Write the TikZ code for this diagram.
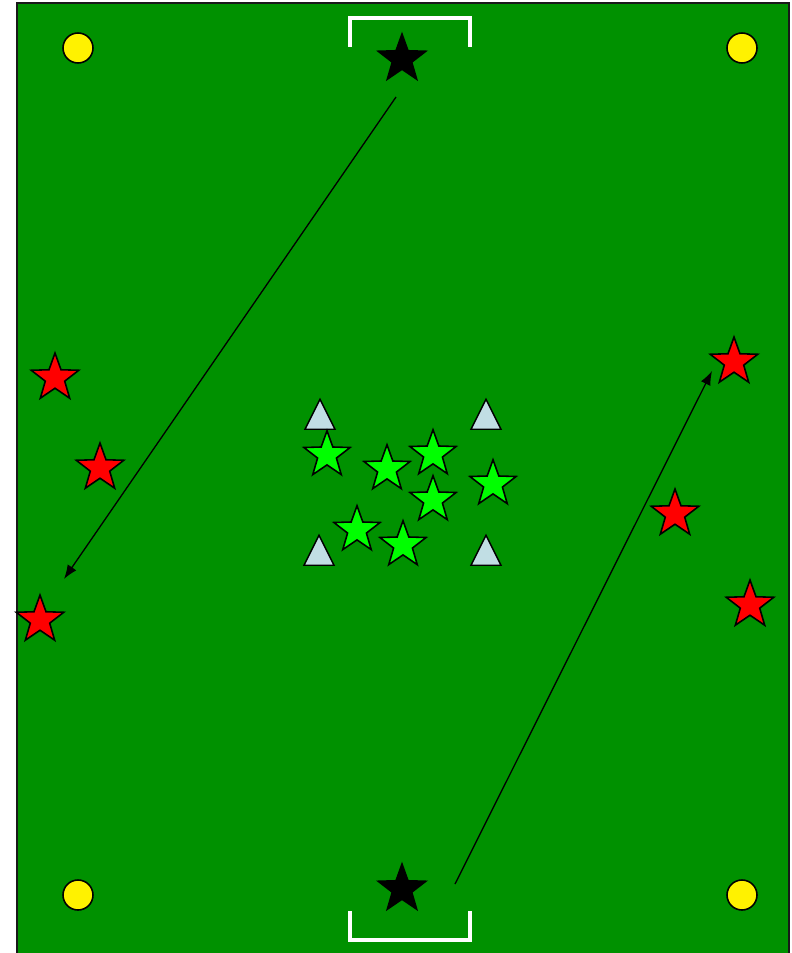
\documentclass[tikz,border=0pt]{standalone}
\usepackage{tikz}
\usetikzlibrary{positioning,calc}
\usetikzlibrary{arrows.meta,shapes.geometric}
\definecolor{PitchGreen}{RGB}{0,145,0}
\definecolor{PlayerGreen}{RGB}{0,255,0}
\definecolor{ConeBlue}{RGB}{193,222,228}
\tikzset{
  player/.style={star,star points=5,star point ratio=2.45,draw=black,line width=0.9pt,
    inner sep=0pt,minimum size=1cm},
  red/.style={player,fill=red},
  grn/.style={player,fill=PlayerGreen,minimum size=0.97cm},
  keeper/.style={player,fill=black},
  ball/.style={circle,draw=black,fill=yellow,line width=0.9pt,inner sep=0pt,minimum size=0.6cm},
  cone/.style={isosceles triangle,isosceles triangle stretches,shape border rotate=90,
    draw=black,fill=ConeBlue,line width=0.8pt,inner sep=0pt,minimum width=0.6cm,minimum height=0.6cm},
}
\tikzset{goal/.style={draw=white,line width=2.4pt},pass/.style={draw=black,line width=0.75pt,-{Latex[length=8pt,width=6pt]}}}
\begin{document}
\begin{tikzpicture}[x=0.02cm,y=-0.02cm]
\useasboundingbox (0,0) rectangle (791,953);
\fill[PitchGreen] (17,3) rectangle (789,965);
\draw[black!90,line width=1.1pt] (17,965) -- (17,3) -- (789,3) -- (789,965);
% goals
\draw[goal] (350,47) -- (350,18) -- (470,18) -- (470,47);
\draw[goal] (350,911) -- (350,940) -- (470,940) -- (470,911);
% corner balls
\node[ball] (b1) at (78,48) {};
\node[ball] (b2) at (742,48) {};
\node[ball] (b3) at (78,895) {};
\node[ball] (b4) at (742,895) {};
% keepers
\node[keeper] (k1) at (402,59) {};
\node[keeper] (k2) at (402,889) {};
% red players
\node[red] (r1) at (55,378) {};
\node[red] (r2) at (100,468) {};
\node[red] (r3) at (40,620) {};
\node[red] (r4) at (734,362) {};
\node[red] (r5) at (675,514) {};
\node[red] (r6) at (750,605) {};
% cones
\node[cone] (c1) at (320,420) {};
\node[cone] (c2) at (486,420) {};
\node[cone] (c3) at (319,556) {};
\node[cone] (c4) at (486,556) {};
% green players
\node[grn] (g1) at (327,455) {};
\node[grn] (g2) at (387,469) {};
\node[grn] (g3) at (433,454) {};
\node[grn] (g4) at (433,500) {};
\node[grn] (g5) at (493,484) {};
\node[grn] (g6) at (357,530) {};
\node[grn] (g7) at (403,545) {};
% passes
\coordinate (p1) at (396,97);
\coordinate (p2) at (64,579);
\coordinate (p3) at (455,884);
\coordinate (p4) at (712,371);
\draw[pass] (p1) -- (p2);
\draw[pass] (p3) -- (p4);
\end{tikzpicture}
\end{document}
